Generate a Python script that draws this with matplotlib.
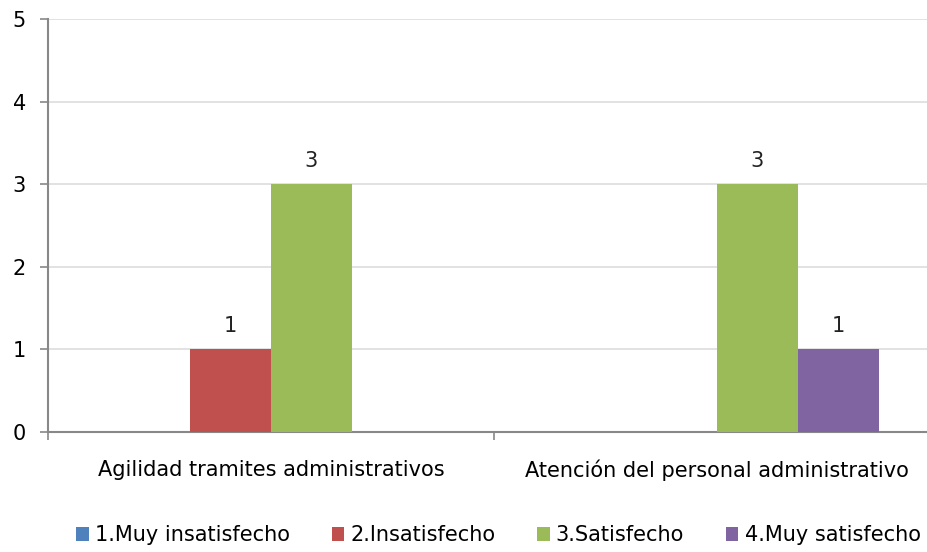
import numpy as np
import matplotlib.pyplot as plt
from matplotlib import font_manager

categories = ["Agilidad tramites administrativos", "Atención del personal administrativo"]
series_names = ["1.Muy insatisfecho", "2.Insatisfecho", "3.Satisfecho", "4.Muy satisfecho"]
values = [
    [0, 0],  # 1.Muy insatisfecho
    [1, 0],  # 2.Insatisfecho
    [3, 3],  # 3.Satisfecho
    [0, 1],  # 4.Muy satisfecho
]
colors = ["#4F81BD", "#C0504D", "#9BBB59", "#8064A2"]
y_ticks = [0, 1, 2, 3, 4, 5]

names = {f.name for f in font_manager.fontManager.ttflist}
family = "Liberation Sans Narrow" if "Liberation Sans Narrow" in names else "DejaVu Sans"
plt.rcParams["font.family"] = [family, "DejaVu Sans"]

W, H = 928, 552
fig = plt.figure(figsize=(W / 100, H / 100), dpi=100)
ax = fig.add_axes([48 / W, 120 / H, 892 / W, 413 / H])

x = np.arange(len(categories))
bw = 0.1816
for i, (name, vals, c) in enumerate(zip(series_names, values, colors)):
    pos = x + (i - 1.5) * bw
    ax.bar(pos, vals, width=bw, color=c, label=name, zorder=3)
    for p, v in zip(pos, vals):
        if v > 0:
            ax.text(p, v + 0.16, str(v), ha="center", va="bottom", fontsize=15, color="#222222")

ax.set_xlim(-0.5, 1.5)
ax.set_ylim(0, 5)
ax.set_yticks(y_ticks)
ax.yaxis.grid(True, color="#dddddd", linewidth=1.2, zorder=0)
ax.tick_params(axis="y", labelsize=15, length=6, color="#888888", width=1.2, pad=10)
ax.set_xticks([-0.5, 0.5, 1.5])
ax.set_xticklabels([])
ax.tick_params(axis="x", length=6, color="#888888", width=1.2)
ax.set_xticks(x, minor=True)
ax.set_xticklabels(categories, minor=True)
ax.tick_params(axis="x", which="minor", length=0, labelsize=15, pad=20)

for s in ["top", "right"]:
    ax.spines[s].set_visible(False)
for s in ["left", "bottom"]:
    ax.spines[s].set_color("#888888")
    ax.spines[s].set_linewidth(1.5)

fig.legend(loc="lower center", bbox_to_anchor=(0.537, -0.022), ncol=4, frameon=False,
           fontsize=15, handlelength=0.6, handleheight=0.6, columnspacing=2.0, handletextpad=0.3)

fig.savefig("out.png", dpi=100)
